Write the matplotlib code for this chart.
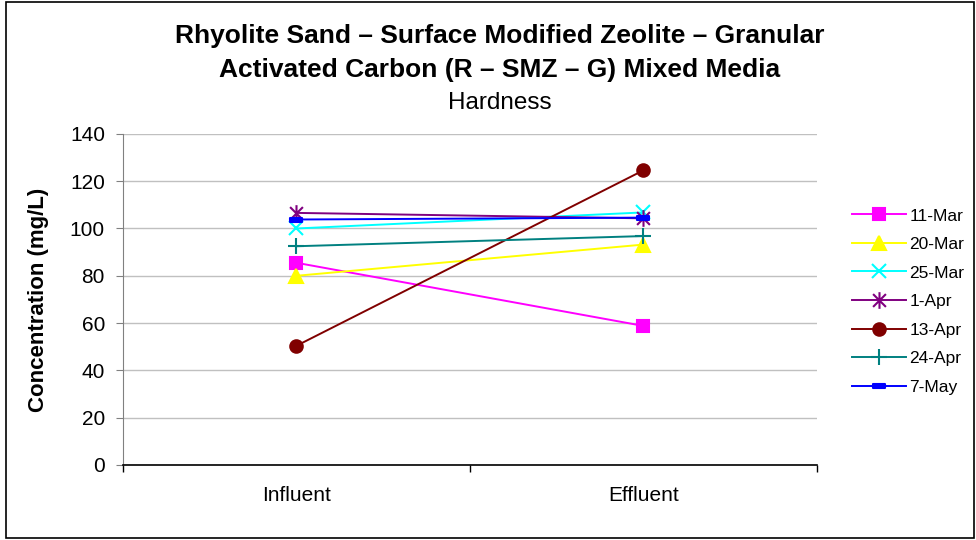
import matplotlib.pyplot as plt
from matplotlib.path import Path
from matplotlib.patches import Rectangle

plt.rcParams['font.family'] = ['Liberation Sans', 'DejaVu Sans']

categories = ['Influent', 'Effluent']
dates = ['11-Mar', '20-Mar', '25-Mar', '1-Apr', '13-Apr', '24-Apr', '7-May']
influent = [85.5, 80, 100, 106.6, 50.4, 92.5, 103.8]
effluent = [58.8, 93.2, 106.8, 104.3, 124.6, 96.8, 104.6]
colors = ['#FF00FF', '#FFFF00', '#00FFFF', '#800080', '#800000', '#008080', '#0000FF']

# excel style markers
asterisk = Path([(-1, -1), (1, 1), (-1, 1), (1, -1), (0, -1.3), (0, 1.3)],
                [Path.MOVETO, Path.LINETO, Path.MOVETO, Path.LINETO, Path.MOVETO, Path.LINETO])
dash = Path([(-1, -0.4), (1, -0.4), (1, 0.4), (-1, 0.4), (-1, -0.4)],
            [Path.MOVETO, Path.LINETO, Path.LINETO, Path.LINETO, Path.CLOSEPOLY])
markers = ['s', '^', 'x', asterisk, 'o', '+', dash]
msizes = [9, 10, 10, 12, 9, 12, 8]

fig = plt.figure(figsize=(9.76, 5.4), dpi=100)
ax = fig.add_axes([0.126, 0.139, 0.711, 0.613])

for i in range(len(dates)):
    ax.plot([0, 1], [influent[i], effluent[i]], color=colors[i], lw=1.4,
            marker=markers[i], markersize=msizes[i], markeredgewidth=1.5,
            markerfacecolor=colors[i], markeredgecolor=colors[i], label=dates[i])

ax.set_xlim(-0.5, 1.5)
ax.set_ylim(0, 140)
ax.set_yticks(range(0, 141, 20))
ax.set_xticks([0, 1])
ax.set_xticklabels(categories, fontsize=15)
ax.set_xticks([-0.5, 0.5, 1.5], minor=True)
ax.tick_params(axis='x', which='major', length=0, pad=15)
ax.tick_params(axis='x', which='minor', length=5, width=1, direction='out')
ax.tick_params(axis='y', labelsize=15, length=5, color='#808080', pad=8)
ax.yaxis.grid(True, color='#c0c0c0', lw=1)
ax.set_axisbelow(True)
for s in ['top', 'right']:
    ax.spines[s].set_visible(False)
ax.spines['left'].set_color('#808080')
ax.spines['bottom'].set_color('black')
ax.spines['bottom'].set_linewidth(1.2)
ax.set_ylabel('Concentration (mg/L)', fontsize=16, fontweight='bold', labelpad=15)

fig.text(0.512, 0.934, 'Rhyolite Sand \u2013 Surface Modified Zeolite \u2013 Granular',
         ha='center', va='center', fontsize=19, fontweight='bold')
fig.text(0.512, 0.870, 'Activated Carbon (R \u2013 SMZ \u2013 G) Mixed Media',
         ha='center', va='center', fontsize=19, fontweight='bold')
fig.text(0.512, 0.810, 'Hardness', ha='center', va='center', fontsize=17.5)

ax.legend(loc='upper left', bbox_to_anchor=(0.866, 0.627), bbox_transform=fig.transFigure,
          frameon=False, fontsize=12.5, handlelength=3.1, handletextpad=0.2,
          labelspacing=0.77, borderaxespad=0)

fig.patches.append(Rectangle((0.006, 0.004), 0.992, 0.993, transform=fig.transFigure,
                             fill=False, edgecolor='black', lw=1.2))

fig.savefig('out.png', dpi=100)
